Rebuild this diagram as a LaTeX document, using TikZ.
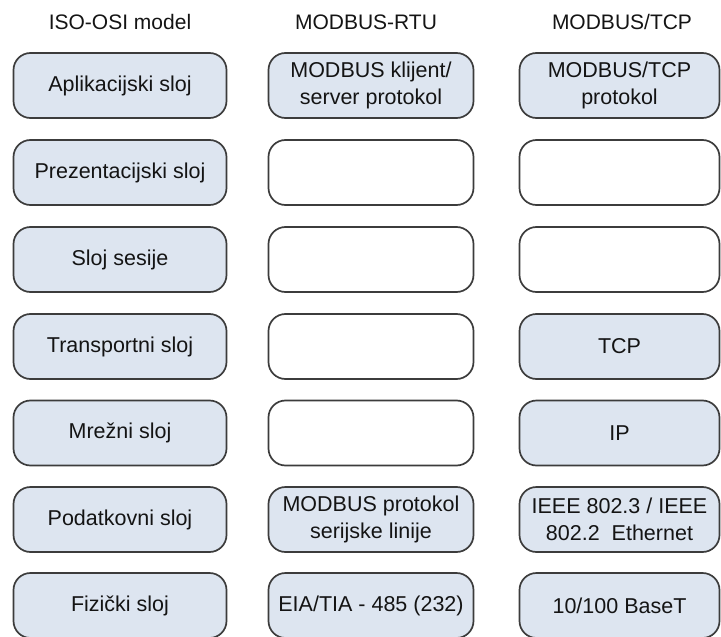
\documentclass[tikz,border=0pt]{standalone}
\usepackage{fontspec}
\setmainfont{Liberation Sans}
\definecolor{boxfill}{RGB}{221,229,240}
\definecolor{boxline}{RGB}{60,60,60}
\definecolor{txt}{RGB}{20,20,20}
\begin{document}
\begin{tikzpicture}[x=1pt,y=-1pt,
  layer/.style={draw=boxline,line width=1.7pt,rounded corners=17pt,
    minimum height=65pt,align=center,text=txt,
    font=\fontsize{21.5}{27.5}\selectfont,inner sep=0pt},
  filled/.style={layer,fill=boxfill},
  empty/.style={layer,fill=white},
  c1/.style={minimum width=213pt},
  c2/.style={minimum width=205pt},
  c3/.style={minimum width=200pt},
  head/.style={text=txt,font=\fontsize{21}{26}\selectfont,inner sep=0pt}]
\useasboundingbox (0,0) rectangle (721,637);
\node[head] (h1) at (120,22) {ISO-OSI model};
\node[head] (h2) at (366,22) {MODBUS-RTU};
\node[head] (h3) at (622,22) {MODBUS/TCP};
% column 1
\node[filled,c1] (a1) at (120,85.5) {Aplikacijski sloj};
\node[filled,c1] (a2) at (120,172.5) {Prezentacijski sloj};
\node[filled,c1] (a3) at (120,259.5) {Sloj sesije};
\node[filled,c1] (a4) at (120,346.5) {Transportni sloj};
\node[filled,c1] (a5) at (120,433) {Mrežni sloj};
\node[filled,c1] (a6) at (120,519.5) {Podatkovni sloj};
\node[filled,c1] (a7) at (120,605.5) {Fizički sloj};
% column 2
\node[filled,c2] (b1) at (371,85.5) {MODBUS klijent/\\server protokol};
\node[empty,c2] (b2) at (371,172.5) {};
\node[empty,c2] (b3) at (371,259.5) {};
\node[empty,c2] (b4) at (371,346.5) {};
\node[empty,c2] (b5) at (371,433) {};
\node[filled,c2] (b6) at (371,519.5) {MODBUS protokol\\serijske linije};
\node[filled,c2] (b7) at (371,605.5) {EIA/TIA - 485 (232)};
% column 3
\node[filled,c3] (d1) at (619.5,85.5) {MODBUS/TCP\\protokol};
\node[empty,c3] (d2) at (619.5,172.5) {};
\node[empty,c3] (d3) at (619.5,259.5) {};
\node[filled,c3] (d4) at (619.5,346.5) {TCP};
\node[filled,c3] (d5) at (619.5,433) {IP};
\node[filled,c3] (d6) at (619.5,519.5) {IEEE 802.3 / IEEE\\802.2\ \ Ethernet};
\node[filled,c3] (d7) at (619.5,605.5) {10/100 BaseT};
\end{tikzpicture}
\end{document}
